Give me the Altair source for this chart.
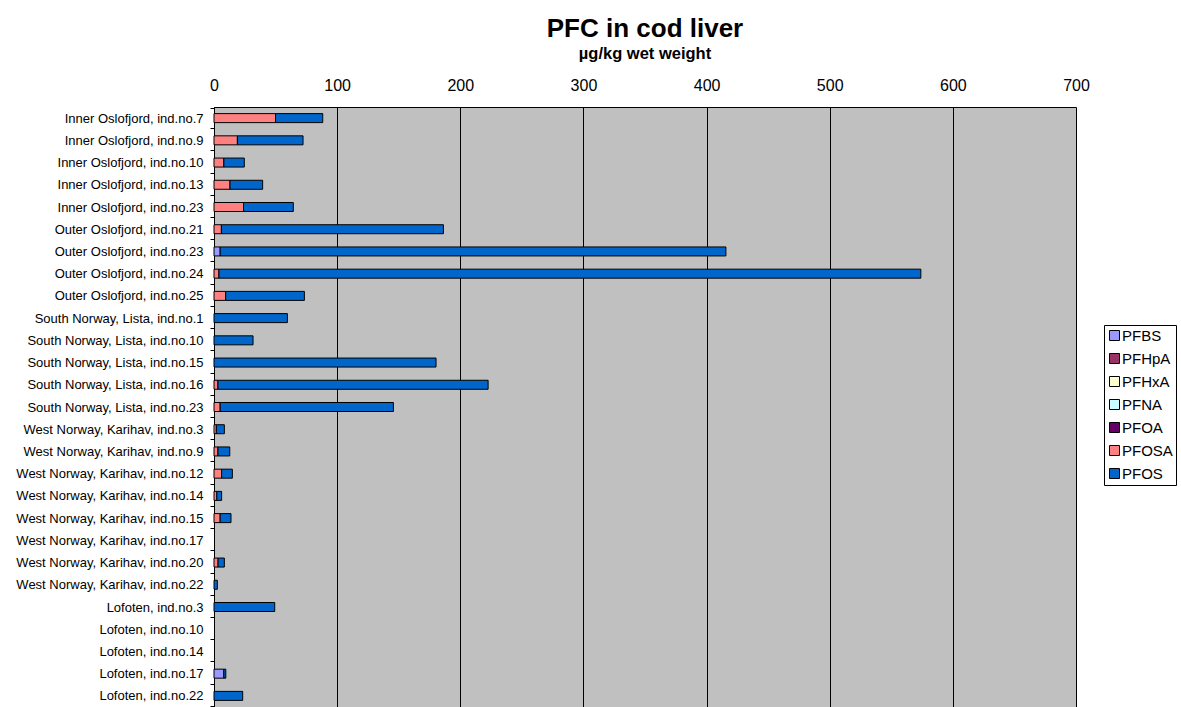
import altair as alt
import pandas as pd

categories = [
    "Inner Oslofjord, ind.no.7", "Inner Oslofjord, ind.no.9", "Inner Oslofjord, ind.no.10",
    "Inner Oslofjord, ind.no.13", "Inner Oslofjord, ind.no.23", "Outer Oslofjord, ind.no.21",
    "Outer Oslofjord, ind.no.23", "Outer Oslofjord, ind.no.24", "Outer Oslofjord, ind.no.25",
    "South Norway, Lista, ind.no.1", "South Norway, Lista, ind.no.10", "South Norway, Lista, ind.no.15",
    "South Norway, Lista, ind.no.16", "South Norway, Lista, ind.no.23", "West Norway, Karihav, ind.no.3",
    "West Norway, Karihav, ind.no.9", "West Norway, Karihav, ind.no.12", "West Norway, Karihav, ind.no.14",
    "West Norway, Karihav, ind.no.15", "West Norway, Karihav, ind.no.17", "West Norway, Karihav, ind.no.20",
    "West Norway, Karihav, ind.no.22", "Lofoten, ind.no.3", "Lofoten, ind.no.10",
    "Lofoten, ind.no.14", "Lofoten, ind.no.17", "Lofoten, ind.no.22",
]

series = ["PFBS", "PFHpA", "PFHxA", "PFNA", "PFOA", "PFOSA", "PFOS"]
colors = ["#9999FF", "#993366", "#FFFFCC", "#CCFFFF", "#660066", "#FF8080", "#0066CC"]

PFBS = [0, 0, 0, 0, 0, 0, 5, 0, 0, 0, 0, 0, 0, 0, 0, 0, 0, 0, 0, 0, 0, 0, 0, 0, 0, 8, 0]
PFHpA = [0] * 27
PFHxA = [0] * 27
PFNA = [0] * 27
PFOA = [0] * 27
PFOSA = [50, 19, 8, 13, 24, 6, 0, 4, 9.5, 0, 0, 0, 3.2, 5, 1.9, 3.2, 6.2, 2.3, 5, 0, 3.3, 0, 0, 0, 0, 0, 0]
PFOS = [38.3, 53.3, 16.6, 26.5, 40.4, 180.3, 410.7, 570, 63.9, 59.6, 31.7, 180.3, 219.4, 140.7,
        6.5, 9.6, 8.7, 3.9, 8.8, 0, 5.1, 2.7, 49.3, 0, 0, 1.6, 23.3]

values = {"PFBS": PFBS, "PFHpA": PFHpA, "PFHxA": PFHxA, "PFNA": PFNA,
          "PFOA": PFOA, "PFOSA": PFOSA, "PFOS": PFOS}

rows = []
for si, s in enumerate(series):
    for ci, c in enumerate(categories):
        rows.append({"site": c, "series": s, "value": values[s][ci], "order": si})
df = pd.DataFrame(rows)

FONT = "Liberation Sans"

chart = alt.Chart(df).transform_filter(
    alt.datum.value > 0
).mark_bar(size=9, stroke="black", strokeWidth=1).encode(
    y=alt.Y("site:N", sort=categories, title=None,
            scale=alt.Scale(domain=categories),
            axis=alt.Axis(tickBand="extent", labelFontSize=13, labelFont=FONT, labelColor="black",
                          domainColor="black", tickColor="black", tickSize=4, labelPadding=7,
                          grid=False, labelLimit=300)),
    x=alt.X("value:Q", stack="zero", title=None,
            scale=alt.Scale(domain=[0, 700], nice=False, zero=True),
            axis=alt.Axis(orient="top", values=[0, 100, 200, 300, 400, 500, 600, 700],
                          labelFontSize=16, labelFont=FONT, labelColor="black",
                          domainColor="black", tickColor="black", ticks=False, labelPadding=14,
                          grid=True, gridColor="black", gridWidth=1, gridOpacity=1,
                          labelFlush=False)),
    color=alt.Color("series:N", scale=alt.Scale(domain=series, range=colors),
                    legend=alt.Legend(title=None, orient="none", legendX=890, legendY=218,
                                      symbolType="square", symbolSize=100, symbolStrokeColor="black",
                                      symbolStrokeWidth=1, symbolOpacity=1,
                                      labelFontSize=15, labelFont=FONT, labelColor="black",
                                      labelOffset=0, rowPadding=7, padding=3,
                                      strokeColor="black", fillColor="white")),
    order=alt.Order("order:Q", sort="ascending"),
).properties(
    width=862, height=600,
    background="white",
    title=alt.TitleParams("PFC in cod liver", subtitle="µg/kg wet weight",
                          font=FONT, fontSize=26, fontWeight="bold", color="black",
                          subtitleFont=FONT, subtitleFontSize=16.5, subtitleFontWeight="bold",
                          subtitleColor="black", anchor="middle", subtitlePadding=4, offset=15),
    autosize=alt.AutoSizeParams(type="none"),
    padding={"left": 214, "top": 107, "right": 105, "bottom": 0},
).configure_view(fill="#C0C0C0", stroke="transparent")

chart.save("out.html", embed_options={"renderer": "svg", "actions": False})
